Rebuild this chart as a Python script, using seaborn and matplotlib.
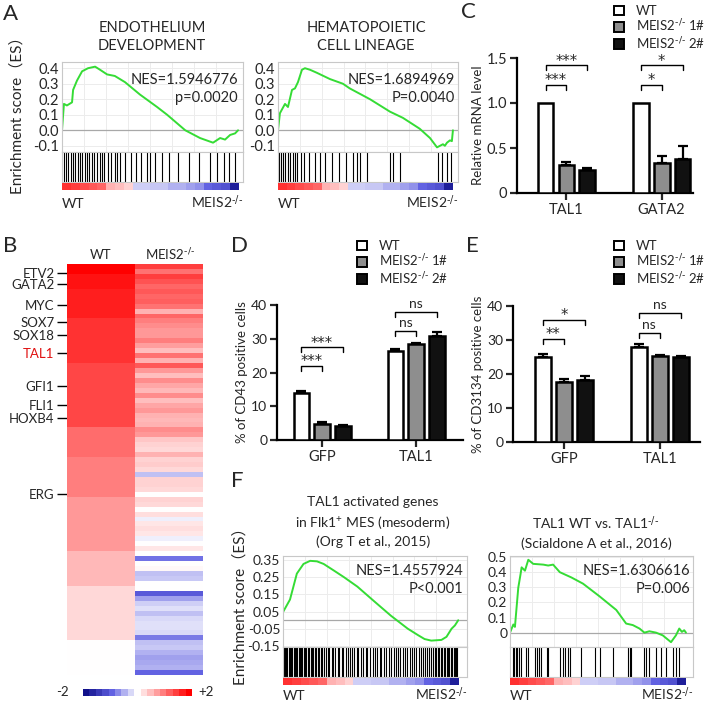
import numpy as np
import pandas as pd
import matplotlib
matplotlib.use('Agg')
import matplotlib.pyplot as plt
from matplotlib.colors import LinearSegmentedColormap
from matplotlib.patches import Patch
import seaborn as sns

sns.set_style('white')
plt.rcParams['font.family'] = ['Lato', 'Noto Sans CJK SC', 'DejaVu Sans']
plt.rcParams['mathtext.default'] = 'regular'

# ---------------- data ----------------
# A / F: GSEA running enrichment score (rank position in %, ES) and hit positions
endo_pos = [0, 1.1, 2.8, 5.7, 6.3, 8.5, 11.4, 14.8, 18.8, 21.6, 25.6, 30, 35.8, 44.3, 54, 59.7,
            70, 78.4, 85.8, 89.8, 92.6, 95.5, 98.3, 100]
endo_es = [0, 0.17, 0.16, 0.18, 0.26, 0.32, 0.38, 0.40, 0.41, 0.39, 0.36, 0.35, 0.31, 0.23, 0.15, 0.10,
           0.0, -0.05, -0.08, -0.05, -0.06, -0.03, -0.02, 0.0]
endo_hits = [1, 2, 3.5, 5, 6, 7.5, 9, 10, 11.5, 13, 14, 15.5, 17, 18, 20, 21.5, 23, 24, 26, 28, 30,
             31.5, 33, 36, 39, 42, 45, 48, 50, 53, 57, 61, 66, 72, 78, 84, 88, 92, 95, 98]

hema_pos = [0, 1.1, 4, 5.7, 8, 9.7, 11.4, 13.7, 15.4, 18.3, 22.3, 29.7, 37.1, 41, 52.6, 64, 71.4,
            81, 86.9, 90.9, 92.6, 94.3, 95.4, 96.6, 98.3, 99.4, 100]
hema_es = [0, 0.11, 0.17, 0.15, 0.26, 0.27, 0.31, 0.39, 0.40, 0.39, 0.37, 0.33, 0.30, 0.27, 0.20,
           0.12, 0.08, 0.01, -0.05, -0.11, -0.10, -0.09, -0.10, -0.08, -0.065, -0.07, 0.0]
hema_hits = [0.5, 1.5, 3, 4, 5.5, 7, 8.5, 10, 11, 13, 15, 18, 21, 24, 27, 31, 35, 39, 43, 45, 47,
             51, 64, 66, 70, 91.4, 94, 96.6, 99]

org_pos = [0, 4.0, 7.9, 11.7, 15.5, 19.4, 23.2, 29, 34.7, 42.4, 52, 61.6, 71.2, 77, 80.8, 84.6,
           90.4, 93.3, 96.2, 98.1, 100]
org_es = [0.047, 0.12, 0.27, 0.326, 0.344, 0.341, 0.326, 0.288, 0.25, 0.195, 0.11, 0.026, -0.049,
          -0.086, -0.109, -0.118, -0.114, -0.096, -0.049, -0.03, 0.0]
org_hits = [0.5, 1, 1.8, 2.5, 3.2, 4, 4.6, 5.3, 6, 6.8, 7.5, 8.1, 8.9, 9.6, 10.4, 11, 11.9, 12.6,
            13.4, 14.1, 15, 15.7, 16.5, 17.3, 18.2, 19, 19.8, 20.7, 21.6, 22.3, 23.5, 24.6, 25.4,
            26.5, 27.8, 28.6, 29.9, 31.2, 32, 33.4, 34.5, 35.9, 37.2, 38.1, 39.5, 40.8, 42.1, 43,
            44.6, 45.9, 47.3, 48.2, 49.8, 51.1, 52.5, 53.8, 55.2, 56.1, 57.7, 59, 60.4, 61.8, 63.1,
            64.2, 65.8, 67, 68.3, 69.5, 70.9, 72.2, 73.4, 74.8, 76.1, 77.5, 78.6, 79.8, 81, 82.1,
            83.3, 84.2, 85.4, 86.5, 87.3, 88.4, 89.2, 90.1, 91, 91.8, 92.7, 93.5, 94.3, 95, 95.8,
            96.6, 97.3, 98, 98.8, 99.5]

scia_pos = [0, 1.9, 2.8, 4.7, 6, 6.6, 8.5, 10.4, 13.2, 18.9, 21.7, 24.5, 28.3, 34.9, 41.5, 50.9,
            60.4, 66, 69.8, 73.6, 76.4, 79.2, 83, 86.8, 91.5, 94.3, 96.2, 97.7, 99, 100]
scia_es = [0, 0.054, 0.038, 0.297, 0.387, 0.432, 0.41, 0.482, 0.455, 0.45, 0.444, 0.45, 0.40,
           0.365, 0.324, 0.24, 0.15, 0.06, 0.05, 0.027, 0.0, 0.009, 0.0, -0.018, -0.063, -0.018,
           0.027, 0.005, 0.016, 0.0]
scia_hits = [1.5, 2.3, 3.4, 4.2, 5.3, 6, 9, 10.4, 14.2, 15.5, 16.6, 17.9, 20.8, 21.7, 28.3, 30.2,
             31.1, 33, 34, 40.6, 48.1, 51, 58.5, 67, 68, 68.9, 76.4, 77.4, 79.2, 83, 85.8, 88.7,
             92.5, 94.3, 96.2]

rank_strip = [1.6, 1.5, 1.4, 1.3, 1.2, 0.6, 0.5, 0.35, -0.3, -0.3, -0.35, -0.35, -0.5, -0.5,
              -0.6, -0.7, -1.0, -1.1, -1.2, -1.8]

# B: heatmap (z-score), WT column in blocks, MEIS2-/- per gene row
wt_levels = [2.0, 1.85, 1.75, 1.6, 1.45, 1.15, 1.0, 0.8, 0.55, 0.3, 0.0]
wt_counts = [2, 3, 6, 9, 13, 6, 8, 11, 7, 11, 7]
meis2_col = [1.5, 1.1, 1.5, 1.35, 1.2, 1.3, 1.2, 1.25, 1.1, 0.6,
             1.2, 1.0, 0.9, 0.8, 0.8, 1.0, 0.75, 0.5, 1.1, 0.6,
             1.3, 0.8, 0.5, 0.9, 0.7, 0.55, 0.9, 0.5, 0.7, 0.8,
             0.6, 0.55, 0.6, 0.9, 0.8, 0.45, 0.35, 0.3, 0.6, 0.35,
             0.4, 0.3, -0.4, 0.35, 0.35, 0.3, 0.0, 0.35, 0.3, 0.0,
             0.25, -0.1, 0.2, 0.25, 0.2, -0.1, 0.0, 0.2, 0.0, -0.9,
             0.0, 0.05, -0.4, -0.35, 0.0, 0.0, -1.1, -0.6, -0.3, -0.2,
             -0.4, -0.25, -0.2, -0.2, -0.25, -0.85, -0.4, -0.35, -0.5, -0.6,
             -0.55, -0.5, -1.0]
gene_names = ['ETV2', 'GATA2', 'MYC', 'SOX7', 'SOX18', 'TAL1', 'GFI1', 'FLI1', 'HOXB4', 'ERG']
gene_rows = [1.8, 4.0, 8.3, 11.7, 14.3, 18.0, 24.6, 28.5, 31.0, 46.5]
scale_vals = [-2, -1.75, -1.5, -1.25, -1.0, -0.75, -0.5, -0.25, 0, 0.25, 0.5, 0.75, 1.0, 1.25,
              1.5, 1.75, 2]

# C, D, E: bar charts
ko = r'MEIS2$^{\text{-/-}}$'
groups = ['WT', ko + ' 1#', ko + ' 2#']
c_genes = ['TAL1', 'GATA2']
c_wt, c_ko1, c_ko2 = [1.0, 1.0], [0.31, 0.33], [0.26, 0.38]
c_err = [[0, 0], [0.03, 0.08], [0.02, 0.14]]
c_sig = [(0, 1, 1.2, '***'), (0, 2, 1.42, '***'), (1, 1, 1.2, '*'), (1, 2, 1.42, '*')]

d_genes = ['GFP', 'TAL1']
d_wt, d_ko1, d_ko2 = [14.0, 26.3], [4.8, 28.3], [4.1, 30.8]
d_err = [[0.5, 0.8], [0.4, 0.5], [0.2, 1.1]]
d_sig = [(0, 1, 22, '***'), (0, 2, 27.5, '***'), (1, 1, 32.3, 'ns'), (1, 2, 38, 'ns')]

e_genes = ['GFP', 'TAL1']
e_wt, e_ko1, e_ko2 = [24.9, 28.0], [17.6, 25.3], [18.2, 25.1]
e_err = [[0.9, 0.8], [0.9, 0.4], [1.2, 0.3]]
e_sig = [(0, 1, 30.4, '**'), (0, 2, 36, '*'), (1, 1, 32, 'ns'), (1, 2, 38, 'ns')]

# ---------------- figure ----------------
W, H = 709, 704
fig = plt.figure(figsize=(W / 100, H / 100), dpi=100)

def box(x0, y0, x1, y1):
    return [x0 / W, 1 - y1 / H, (x1 - x0) / W, (y1 - y0) / H]

def ftext(x, y, s, **kw):
    fig.text(x / W, 1 - y / H, s, **kw)

cmap = LinearSegmentedColormap.from_list(
    'bwr2', [(0, '#10108a'), (0.25, '#6262e2'), (0.5, '#ffffff'), (1.0, '#ff0000')])
green = '#35dc35'
frame = '#c8c8c8'
bar_colors = ['white', '#8e8e8e', '#111111']


def gsea(x0, x1, y0, y1, pos, es, hits, xmax, ylim, yticks, ylabels, tsize, lab_y):
    ax = fig.add_axes(box(x0, y0, x1, y1))
    sns.lineplot(x=pos, y=es, ax=ax, color=green, lw=1.4, estimator=None, sort=False)
    ax.axhline(0, color='#a8a8a8', lw=0.9, zorder=1)
    ax.set_xlim(0, xmax)
    ax.set_ylim(*ylim)
    ax.set_yticks(yticks)
    ax.set_yticklabels(ylabels, fontsize=tsize)
    ax.set_xticks([12.5, 25, 37.5, 50, 62.5, 75, 87.5])
    ax.set_xticklabels([])
    ax.grid(True, color='#ececec', lw=0.7)
    ax.tick_params(length=0, pad=2)
    for s in ax.spines.values():
        s.set_color(frame)
        s.set_linewidth(0.8)
    bc = fig.add_axes(box(x0, y1, x1, y1 + 30))
    bc.vlines(hits, 0, 1, color='black', lw=0.8)
    bc.set_xlim(0, xmax)
    bc.set_ylim(0, 1)
    bc.set_xticks([])
    bc.set_yticks([])
    for s in bc.spines.values():
        s.set_color(frame)
        s.set_linewidth(0.8)
    st = fig.add_axes(box(x0, y1 + 31, x1, y1 + 38))
    st.imshow([rank_strip], cmap=cmap, vmin=-2, vmax=2, aspect='auto',
              extent=(0, 100, 0, 1), interpolation='nearest')
    st.set_xlim(0, xmax)
    st.axis('off')
    ftext(x0, lab_y, 'WT', fontsize=10, va='baseline', ha='left')
    ftext(x1, lab_y, ko, fontsize=10, va='baseline', ha='right')
    return ax


# ---- panel A ----
gsea(62, 243, 62, 152, endo_pos, endo_es, endo_hits, 102.8, (-0.14, 0.44),
     [-0.1, 0, 0.1, 0.2, 0.3, 0.4], ['-0.1', '0.0', '0.1', '0.2', '0.3', '0.4'], 10.5, 208)
gsea(278, 458, 62, 152, hema_pos, hema_es, hema_hits, 102.9, (-0.14, 0.44),
     [-0.1, 0, 0.1, 0.2, 0.3, 0.4], ['-0.1', '0.0', '0.1', '0.2', '0.3', '0.4'], 10.5, 208)
ftext(152, 37, 'ENDOTHELIUM\nDEVELOPMENT', fontsize=10.5, ha='center', va='center', linespacing=1.45)
ftext(366, 37, 'HEMATOPOIETIC\nCELL LINEAGE', fontsize=10.5, ha='center', va='center', linespacing=1.45)
ftext(238, 80, 'NES=1.5946776', fontsize=10.5, ha='right', va='center')
ftext(238, 98, 'p=0.0020', fontsize=10.5, ha='right', va='center')
ftext(455, 80, 'NES=1.6894969', fontsize=10.5, ha='right', va='center')
ftext(455, 98, 'P=0.0040', fontsize=10.5, ha='right', va='center')
ftext(17, 112, 'Enrichment score（ES）', fontsize=11, rotation=90, ha='center', va='center')

# ---- panel F ----
gsea(283, 467, 556, 647, org_pos, org_es, org_hits, 105, (-0.155, 0.372),
     [-0.15, -0.05, 0.05, 0.15, 0.25, 0.35], ['-0.15', '-0.05', '0.05', '0.15', '0.25', '0.35'],
     10, 700)
gsea(510, 693, 556, 647, scia_pos, scia_es, scia_hits, 104, (-0.095, 0.507),
     [0, 0.1, 0.2, 0.3, 0.4, 0.5], ['0', '0.1', '0.2', '0.3', '0.4', '0.5'], 10, 700)
ftext(373, 522, 'TAL1 activated genes\nin Flk1$^{+}$ MES (mesoderm)\n(Org T et al., 2015)',
      fontsize=10, ha='center', va='center', linespacing=1.45)
ftext(596, 532, 'TAL1 WT vs. TAL1' + r'$^{\text{-/-}}$' + '\n(Scialdone A et al., 2016)',
      fontsize=10, ha='center', va='center', linespacing=1.45)
ftext(463, 571, 'NES=1.4557924', fontsize=10.5, ha='right', va='center')
ftext(463, 589, 'P<0.001', fontsize=10.5, ha='right', va='center')
ftext(690, 571, 'NES=1.6306616', fontsize=10.5, ha='right', va='center')
ftext(690, 589, 'P=0.006', fontsize=10.5, ha='right', va='center')
ftext(240, 603, 'Enrichment score（ES）', fontsize=11, rotation=90, ha='center', va='center')

# ---- panel B ----
axb = fig.add_axes(box(67, 264, 203, 675))
hm = pd.DataFrame({'WT': np.repeat(wt_levels, wt_counts), 'MEIS2': meis2_col})
sns.heatmap(hm, cmap=cmap, vmin=-2, vmax=2, cbar=False, ax=axb,
            xticklabels=False, yticklabels=False)
axb.set_yticks(gene_rows)
axb.set_yticklabels(gene_names, fontsize=9.5)
axb.tick_params(axis='y', left=True, length=7, width=1, pad=2, color='black')
axb.get_yticklabels()[5].set_color('#e01010')
ftext(101, 255, 'WT', fontsize=9.5, ha='center', va='center')
ftext(170, 255, ko, fontsize=9.5, ha='center', va='center')

axs = fig.add_axes(box(83, 689, 192, 696))
axs.imshow([scale_vals], cmap=cmap, vmin=-2, vmax=2, aspect='auto', interpolation='nearest')
axs.axis('off')
ftext(62, 692, '-2', fontsize=9.5, ha='center', va='center')
ftext(206, 692, '+2', fontsize=9.5, ha='center', va='center')


# ---- panels C, D, E ----
def bars(rect, genes, wt, ko1, ko2, errs, sig, ytop, yticks, ylabels, ylabel, xlim, tsize):
    ax = fig.add_axes(box(*rect))
    df = pd.DataFrame({'gene': genes * 3,
                       'group': [groups[0]] * 2 + [groups[1]] * 2 + [groups[2]] * 2,
                       'value': wt + ko1 + ko2})
    sns.barplot(data=df, x='gene', y='value', hue='group', hue_order=groups, palette=bar_colors,
                edgecolor='black', linewidth=1.8, width=0.66, gap=0.24, errorbar=None,
                legend=False, ax=ax, zorder=3)
    centers = []
    for cont, err in zip(ax.containers, errs):
        row = []
        for b, e in zip(cont, err):
            xc = b.get_x() + b.get_width() / 2
            row.append(xc)
            if e > 0:
                ax.errorbar(xc, b.get_height(), yerr=[[0], [e]], color='black', capsize=3.5,
                            capthick=1.6, elinewidth=1.6, zorder=2)
        centers.append(row)
    leg = 0.037 * ytop
    for gi, hi, yb, lab in sig:
        xa, xb = centers[0][gi], centers[hi][gi]
        ax.plot([xa, xa, xb, xb], [yb - leg, yb, yb, yb - leg], color='black', lw=1,
                clip_on=False)
        if lab == 'ns':
            ax.annotate(lab, ((xa + xb) / 2, yb), xytext=(0, 1.5), textcoords='offset points',
                        ha='center', va='bottom', fontsize=10, annotation_clip=False)
        else:
            ax.annotate(lab, ((xa + xb) / 2, yb), xytext=(0, -2.5), textcoords='offset points',
                        ha='center', va='bottom', fontsize=10.5, family='DejaVu Sans',
                        annotation_clip=False)
    ax.set_xlim(*xlim)
    ax.set_ylim(0, ytop)
    ax.set_yticks(yticks)
    ax.set_yticklabels(ylabels, fontsize=tsize)
    ax.set_xticks([0, 1])
    ax.set_xticklabels(genes, fontsize=10.5)
    ax.set_xlabel('')
    ax.set_ylabel(ylabel, fontsize=9.5, labelpad=2)
    sns.despine(ax=ax)
    for s in ['left', 'bottom']:
        ax.spines[s].set_linewidth(1.6)
        ax.spines[s].set_color('black')
    ax.tick_params(left=True, bottom=True, length=5, width=1.6, pad=2)
    return ax


def legend(x, y):
    handles = [Patch(facecolor=c, edgecolor='black', linewidth=1.4) for c in bar_colors]
    fig.legend(handles, groups, loc='upper left', bbox_to_anchor=(x / W, 1 - y / H),
               frameon=False, fontsize=9.5, handlelength=0.75, handleheight=0.75,
               labelspacing=0.05, handletextpad=0.9, borderpad=0, borderaxespad=0)


bars((517, 58, 693, 193), c_genes, c_wt, c_ko1, c_ko2, c_err, c_sig, 1.5,
     [0, 0.5, 1.0, 1.5], ['0', '0.5', '1.0', '1.5'], 'Relative mRNA level', (-0.52, 1.33), 10.5)
legend(614, 5)
bars((277, 305, 463, 440), d_genes, d_wt, d_ko1, d_ko2, d_err, d_sig, 40,
     [0, 10, 20, 30, 40], ['0', '10', '20', '30', '40'], '% of CD43 positive cells',
     (-0.48, 1.5), 10)
legend(357, 240)
bars((513, 306, 700, 442), e_genes, e_wt, e_ko1, e_ko2, e_err, e_sig, 40,
     [0, 10, 20, 30, 40], ['0', '10', '20', '30', '40'], '% of CD3134 positive cells',
     (-0.53, 1.42), 10)
legend(614, 240)

# panel letters
for lab, x, y in [('A', 3, 14), ('B', 3, 246), ('C', 461, 12), ('D', 231, 246),
                  ('E', 466, 246), ('F', 231, 481)]:
    ftext(x, y, lab, fontsize=16, ha='left', va='center')

fig.savefig('out.png', dpi=100)
